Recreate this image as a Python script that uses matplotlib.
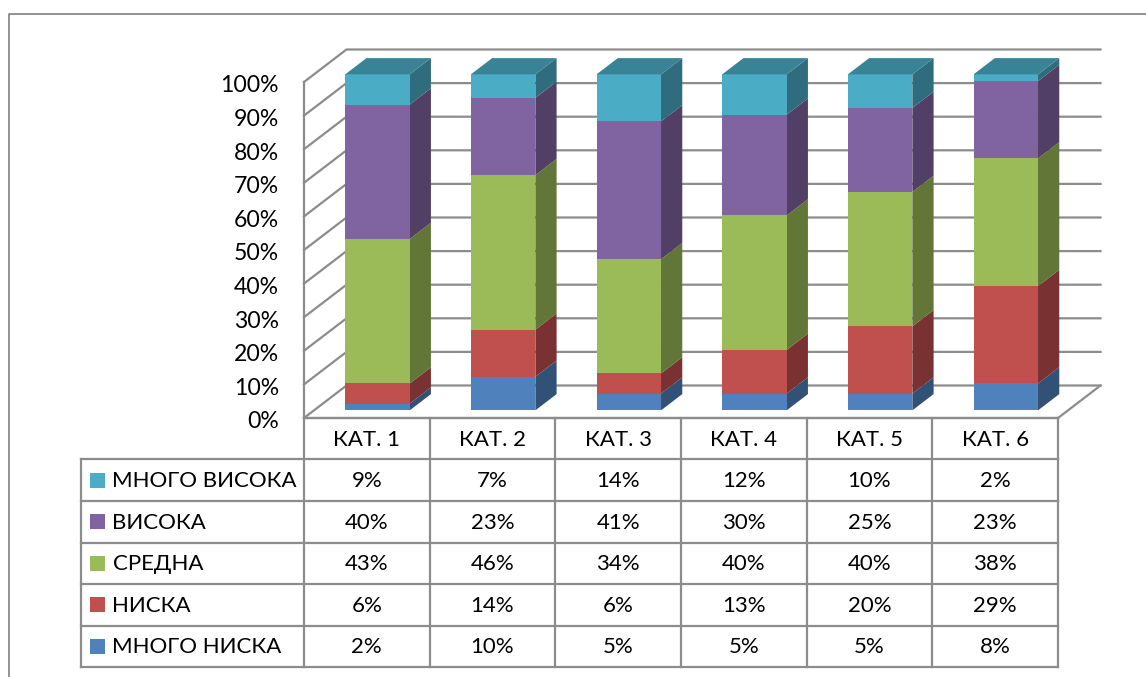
import numpy as np
import matplotlib
matplotlib.use("Agg")
import matplotlib.pyplot as plt
from matplotlib.patches import Polygon, Rectangle
from matplotlib.colors import to_rgb

plt.rcParams['font.family'] = ['Lato', 'Open Sans', 'DejaVu Sans']

categories = ['КАТ. 1', 'КАТ. 2', 'КАТ. 3', 'КАТ. 4', 'КАТ. 5', 'КАТ. 6']
series_names = ['МНОГО НИСКА', 'НИСКА', 'СРЕДНА', 'ВИСОКА', 'МНОГО ВИСОКА']
mnogo_niska = [2, 10, 5, 5, 5, 8]
niska = [6, 14, 6, 13, 20, 29]
sredna = [43, 46, 34, 40, 40, 38]
visoka = [40, 23, 41, 30, 25, 23]
mnogo_visoka = [9, 7, 14, 12, 10, 2]
series_values = [mnogo_niska, niska, sredna, visoka, mnogo_visoka]
colors = ['#4F81BD', '#C0504D', '#9BBB59', '#8064A2', '#4BACC6']
y_ticks = list(range(0, 101, 10))

W, H = 1146, 677
fig = plt.figure(figsize=(W / 100, H / 100), dpi=100)

# pixel overlay for frame and table
px = fig.add_axes([0, 0, 1, 1])
px.set_xlim(0, W)
px.set_ylim(H, 0)
px.axis('off')

X0, X1, Y0, Y1 = 304, 1058, 418, 82
ax = fig.add_axes([X0 / W, 1 - Y0 / H, (X1 - X0) / W, (Y0 - Y1) / H])
ax.set_xlim(0, 6)
ax.set_ylim(0, 100)
ax.axis('off')
ax.patch.set_alpha(0)

DX = 42.5 / ((X1 - X0) / 6)
DY = 32.5 / ((Y0 - Y1) / 100)
def proj(x, y, d):
    return (x + d * DX, y + d * DY)

GRID = '#8c8c8c'
LW = 1.6
# walls
for t in y_ticks:
    ax.plot(*zip(proj(0, t, 0), proj(0, t, 1), proj(6, t, 1)), color=GRID, lw=LW, clip_on=False, zorder=1, solid_joinstyle='miter')
ax.plot(*zip(proj(0, 100, 0), proj(0, 0, 0), proj(6, 0, 0), proj(6, 0, 1)), color=GRID, lw=LW, clip_on=False, zorder=1.5)

def shade(c, f):
    return tuple(v * f for v in to_rgb(c))

BW = 0.513
D0, D1 = 0.235, 0.735
for i in range(len(categories)):
    l, r = i + 0.505 - BW / 2, i + 0.505 + BW / 2
    b = 0
    for vals, c in zip(series_values, colors):
        t = b + vals[i]
        ax.add_patch(Polygon([proj(r, b, D0), proj(r, b, D1), proj(r, t, D1), proj(r, t, D0)],
                             fc=shade(c, 0.63), ec='none', clip_on=False, zorder=2))
        ax.add_patch(Polygon([proj(l, b, D0), proj(r, b, D0), proj(r, t, D0), proj(l, t, D0)],
                             fc=c, ec='none', clip_on=False, zorder=3))
        b = t
    ax.add_patch(Polygon([proj(l, b, D0), proj(r, b, D0), proj(r, b, D1), proj(l, b, D1)],
                         fc=shade(colors[-1], 0.76), ec='none', clip_on=False, zorder=3))

FS = 16.0
for t in y_ticks:
    x, y = proj(0, t, 0)
    ax.annotate(f'{t}%', (x, y), xytext=(-25, -2), textcoords='offset pixels', ha='right', va='center_baseline',
                fontsize=16.6, color='black', annotation_clip=False)

# table
row_y = [418, 459, 501, 542.5, 584, 625.7, 666.7]
col_x = [X0 + k * (X1 - X0) / 6 for k in range(7)]
TL = 81
for k, y in enumerate(row_y):
    px.plot([TL if k else X0, X1], [y, y], color=GRID, lw=LW, solid_capstyle='projecting')
px.plot([TL, TL], [row_y[1], row_y[-1]], color=GRID, lw=LW)
for x in col_x:
    px.plot([x, x], [row_y[0], row_y[-1]], color=GRID, lw=LW)

for i, cat in enumerate(categories):
    xc = (col_x[i] + col_x[i + 1]) / 2
    px.text(xc, (row_y[0] + row_y[1]) / 2 + 1, cat, ha='center', va='center', fontsize=FS)
    for k, vals in enumerate(reversed(series_values)):
        px.text(xc, (row_y[k + 1] + row_y[k + 2]) / 2 + 1, f'{vals[i]}%', ha='center', va='center', fontsize=FS)

for k, (name, c) in enumerate(zip(reversed(series_names), reversed(colors))):
    yc = (row_y[k + 1] + row_y[k + 2]) / 2
    px.add_patch(Rectangle((90, yc - 7.5), 15, 15, fc=c, ec='none'))
    px.text(112.5, yc + 1, name, ha='left', va='center', fontsize=FS)

# outer frame
px.plot([9, 9, W], [H, 13.5, 13.5], color='#8a8a8a', lw=1.3)

fig.savefig('out.png', dpi=100)
